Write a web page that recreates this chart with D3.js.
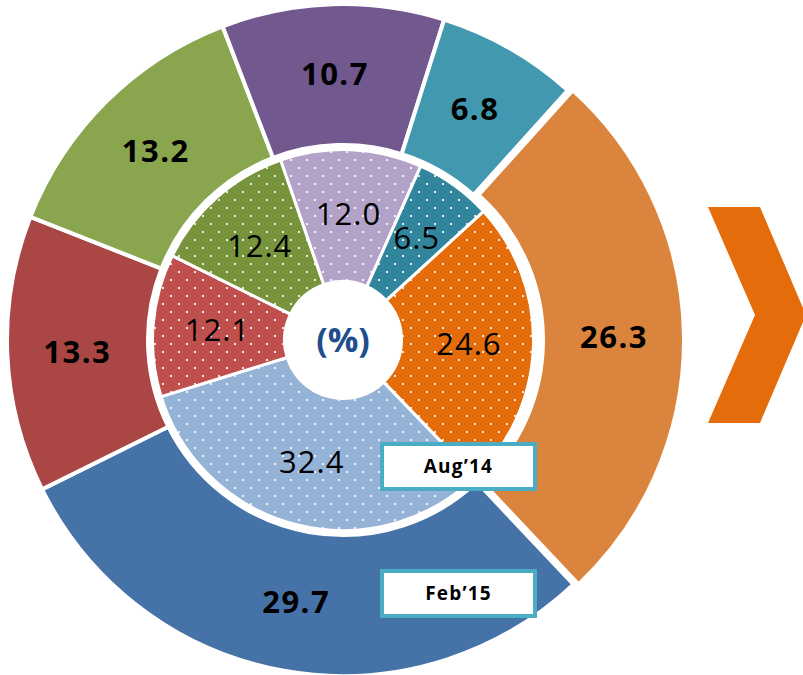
<!DOCTYPE html>
<html>
<head>
<meta charset="utf-8">
<script src="https://cdn.jsdelivr.net/npm/d3@7/dist/d3.min.js"></script>
<style>
  html, body { margin: 0; padding: 0; background: #ffffff; }
  svg { display: block; }
</style>
</head>
<body>
<svg id="chart" width="803" height="675"></svg>
<script>
// Segment order, clockwise
const segments = ["s1", "s2", "s3", "s4", "s5", "s6"];
// Outer ring: Feb'15 shares (%)
const feb15 = [26.3, 29.7, 13.3, 13.2, 10.7, 6.8];
// Inner ring: Aug'14 shares (%)
const aug14 = [24.6, 32.4, 12.1, 12.4, 12.0, 6.5];
// Ring names shown in the tag boxes
const ringLabels = ["Aug\u201914", "Feb\u201915"];
const centerLabel = "(%)";

const outerColors = ["#DB843D", "#4572A7", "#AA4643", "#89A54E", "#71588F", "#4198AF"];
const innerColors = ["#E46C0A", "#95B3D7", "#C0504D", "#77933C", "#B3A2C7", "#31859C"];

const svg = d3.select("#chart");
const cx = 343, cy = 340;
const deg = Math.PI / 180;

// dotted fills for the inner ring
const defs = svg.append("defs");
innerColors.forEach((c, i) => {
  const p = defs.append("pattern")
    .attr("id", "dots" + i)
    .attr("patternUnits", "userSpaceOnUse")
    .attr("width", 16).attr("height", 16);
  p.append("rect").attr("width", 16).attr("height", 16).attr("fill", c);
  p.append("rect").attr("x", 3).attr("y", 3).attr("width", 2).attr("height", 2)
    .attr("fill", "#ffffff").attr("opacity", 0.85);
  p.append("rect").attr("x", 11).attr("y", 11).attr("width", 2).attr("height", 2)
    .attr("fill", "#ffffff").attr("opacity", 0.85);
});

const g = svg.append("g").attr("transform", `translate(${cx},${cy})`);

// ---- outer ring (Feb'15) ----
const outerStart = 42 * deg;
const outerPie = d3.pie().sort(null)
  .startAngle(outerStart).endAngle(outerStart + 2 * Math.PI);
const outerArc = d3.arc().innerRadius(195).outerRadius(336);
const outerLabelArc = d3.arc().innerRadius(266).outerRadius(266);
const explode = [5, 0, 0, 0, 0, 0];

const outerData = outerPie(feb15);
const offset = (d, i) => {
  const a = (d.startAngle + d.endAngle) / 2;
  return [Math.sin(a) * explode[i], -Math.cos(a) * explode[i]];
};

g.selectAll("path.outer").data(outerData).join("path")
  .attr("class", "outer")
  .attr("d", outerArc)
  .attr("transform", (d, i) => `translate(${offset(d, i)})`)
  .attr("fill", (d, i) => outerColors[i])
  .attr("stroke", "#ffffff").attr("stroke-width", 4).attr("stroke-linejoin", "miter");

g.selectAll("text.outer").data(outerData).join("text")
  .attr("class", "outer")
  .attr("x", (d, i) => outerLabelArc.centroid(d)[0] + offset(d, i)[0])
  .attr("y", (d, i) => outerLabelArc.centroid(d)[1] + offset(d, i)[1])
  .attr("dy", "0.36em")
  .attr("text-anchor", "middle")
  .attr("font-family", "'Open Sans', sans-serif")
  .attr("font-weight", 700)
  .attr("font-size", 31)
  .attr("letter-spacing", 1.5)
  .attr("fill", "#000000")
  .text(d => d.data.toFixed(1));

// ---- inner ring (Aug'14) ----
const innerStart = 47.5 * deg;
const innerPie = d3.pie().sort(null)
  .startAngle(innerStart).endAngle(innerStart + 2 * Math.PI);
const innerArc = d3.arc().innerRadius(58.5).outerRadius(190.5);
const innerLabelArc = d3.arc().innerRadius(126).outerRadius(126);
const innerData = innerPie(aug14);

g.selectAll("path.inner").data(innerData).join("path")
  .attr("class", "inner")
  .attr("d", innerArc)
  .attr("fill", (d, i) => `url(#dots${i})`)
  .attr("stroke", "#ffffff").attr("stroke-width", 3);

g.selectAll("text.inner").data(innerData).join("text")
  .attr("class", "inner")
  .attr("x", d => innerLabelArc.centroid(d)[0])
  .attr("y", d => innerLabelArc.centroid(d)[1])
  .attr("dy", "0.36em")
  .attr("text-anchor", "middle")
  .attr("font-family", "'Open Sans', sans-serif")
  .attr("font-weight", 400)
  .attr("font-size", 31)
  .attr("letter-spacing", 1)
  .attr("fill", "#000000")
  .text(d => d.data.toFixed(1));

// unit in the hole
g.append("text")
  .attr("x", 0).attr("y", 0).attr("dy", "0.36em")
  .attr("text-anchor", "middle")
  .attr("font-family", "'Open Sans', sans-serif")
  .attr("font-weight", 700)
  .attr("font-size", 34)
  .attr("fill", "#1F4E8C")
  .text(centerLabel);

// ---- ring tags ----
const tags = [
  { text: ringLabels[0], x: 380, y: 442 },
  { text: ringLabels[1], x: 380, y: 569 }
];
const tagW = 157, tagH = 49;
const tg = svg.selectAll("g.tag").data(tags).join("g")
  .attr("class", "tag")
  .attr("transform", d => `translate(${d.x},${d.y})`);
tg.append("rect")
  .attr("x", 2).attr("y", 2)
  .attr("width", tagW - 4).attr("height", tagH - 4)
  .attr("fill", "#ffffff")
  .attr("stroke", "#4BACC6").attr("stroke-width", 4);
tg.append("text")
  .attr("x", tagW / 2).attr("y", tagH / 2).attr("dy", "0.36em")
  .attr("text-anchor", "middle")
  .attr("font-family", "'Open Sans', sans-serif")
  .attr("font-weight", 700)
  .attr("font-size", 19)
  .attr("letter-spacing", 1.2)
  .attr("fill", "#000000")
  .text(d => d.text);

// ---- chevron arrow ----
svg.append("path")
  .attr("d", "M708,207 L760,207 L806,315 L760,423 L708,423 L755,315 Z")
  .attr("fill", "#E46C0A");
</script>
</body>
</html>
